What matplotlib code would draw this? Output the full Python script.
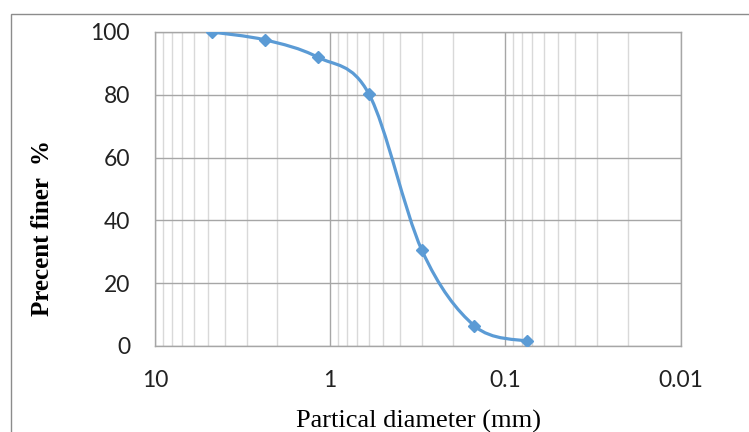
import numpy as np
import matplotlib
matplotlib.use('Agg')
import matplotlib.pyplot as plt
from matplotlib.path import Path
from matplotlib.patches import PathPatch, Rectangle
from matplotlib.ticker import LogLocator, FixedLocator, NullFormatter

# Dados da curva granulométrica
diametro_mm = [4.75, 2.36, 1.18, 0.6, 0.3, 0.15, 0.075]
passante_pct = [100, 97.5, 92, 80.2, 30.6, 6.4, 1.5]

x_ticks = [10, 1, 0.1, 0.01]
x_tick_labels = ['10', '1', '0.1', '0.01']
y_ticks = [0, 20, 40, 60, 80, 100]

COR_LINHA = '#5B9BD5'
COR_GRADE = '#a6a6a6'
COR_GRADE_MENOR = '#d9d9d9'

W, H = 749, 432


def smooth_path(xs, ys):
    """Curva suavizada tipo Excel (Bezier cúbica em espaço log)."""
    u = np.log10(np.asarray(xs, dtype=float))
    v = np.asarray(ys, dtype=float)
    pts = np.column_stack([u, v])
    n = len(pts)
    verts = [pts[0]]
    codes = [Path.MOVETO]
    for i in range(n - 1):
        p0 = pts[i - 1] if i > 0 else pts[i]
        p1 = pts[i]
        p2 = pts[i + 1]
        p3 = pts[i + 2] if i + 2 < n else pts[i + 1]
        c1 = p1 + (p2 - p0) / 6.0
        c2 = p2 - (p3 - p1) / 6.0
        verts += [c1, c2, p2]
        codes += [Path.CURVE4] * 3
    verts = np.array(verts)
    verts[:, 0] = 10 ** verts[:, 0]
    return Path(verts, codes)


fig = plt.figure(figsize=(W / 100, H / 100), dpi=100)
ax = fig.add_axes([155 / W, 1 - 346 / H, (680.5 - 155) / W, (346 - 32) / H])

# Borda do gráfico (área externa)
fig.patches.append(Rectangle((11 / W, -0.05), 1.0, 1 - 14 / H + 0.05,
                             transform=fig.transFigure, fill=False,
                             edgecolor='#8c8c8c', linewidth=1.0, zorder=0))

ax.set_xscale('log')
ax.set_xlim(10, 0.01)
ax.set_ylim(0, 100)

ax.xaxis.set_major_locator(FixedLocator(x_ticks))
ax.set_xticklabels(x_tick_labels)
ax.xaxis.set_minor_locator(LogLocator(base=10, subs=np.arange(2, 10)))
ax.xaxis.set_minor_formatter(NullFormatter())
ax.set_yticks(y_ticks)

ax.grid(True, which='major', color=COR_GRADE, linewidth=1.0, zorder=0)
ax.grid(True, which='minor', axis='x', color=COR_GRADE_MENOR, linewidth=1.0, zorder=0)
ax.set_axisbelow(True)

for s in ax.spines.values():
    s.set_color(COR_GRADE)
    s.set_linewidth(1.0)

ax.tick_params(which='both', length=0)
ax.tick_params(axis='y', pad=18)
ax.tick_params(axis='x', pad=17)
for lbl in ax.get_xticklabels() + ax.get_yticklabels():
    lbl.set_fontfamily('Lato')
    lbl.set_fontsize(16.5)
    lbl.set_color('#222222')

curva = PathPatch(smooth_path(diametro_mm, passante_pct), facecolor='none',
                  edgecolor=COR_LINHA, linewidth=2.3, transform=ax.transData,
                  zorder=3, capstyle='round', joinstyle='round')
ax.add_patch(curva)
ax.plot(diametro_mm, passante_pct, linestyle='none', marker='D', markersize=6.5,
        color=COR_LINHA, zorder=4)

fig.text(43 / W, 1 - 228 / H, 'Precent finer  %', rotation=90, ha='center', va='center',
         fontfamily='Liberation Serif', fontweight='bold', fontsize=18)
fig.text(418 / W, 1 - 428 / H, 'Partical diameter (mm)', ha='center', va='baseline',
         fontfamily='Liberation Serif', fontsize=19)

fig.savefig('out.png', dpi=100)
